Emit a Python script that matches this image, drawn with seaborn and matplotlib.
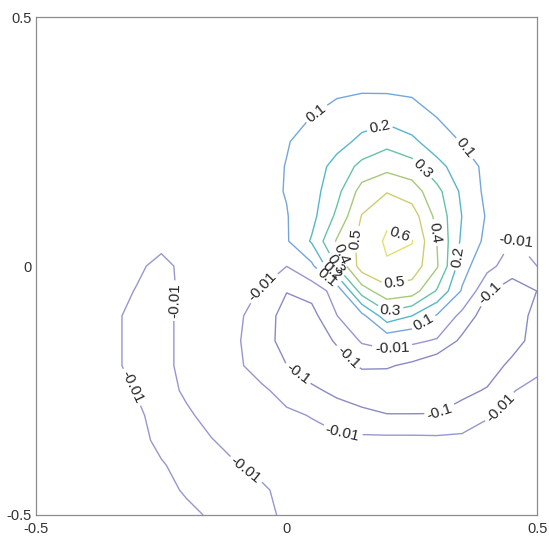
import numpy as np
import matplotlib
matplotlib.use("Agg")
import matplotlib.pyplot as plt
import seaborn as sns

# grid of the field (rows from y=0.5 down to y=-0.5)
x_grid = np.linspace(-0.5, 0.5, 21)
y_grid = np.linspace(0.5, -0.5, 21)

z_y050 = [0.0, 0.0, 0.0, 0.0, 0.0, 0.0, 0.002, 0.004, 0.008, 0.012, 0.018, 0.024, 0.03, 0.035, 0.035, 0.032, 0.027, 0.021, 0.016, 0.012, 0.008]
z_y045 = [0.0, 0.0, 0.0, 0.0, 0.0, 0.001, 0.003, 0.006, 0.011, 0.017, 0.026, 0.035, 0.044, 0.05, 0.05, 0.046, 0.038, 0.03, 0.022, 0.016, 0.011]
z_y040 = [0.0, 0.0, 0.0, 0.0, 0.001, 0.002, 0.004, 0.008, 0.015, 0.024, 0.036, 0.05, 0.062, 0.07, 0.07, 0.065, 0.054, 0.042, 0.03, 0.021, 0.014]
z_y035 = [0.0, 0.0, 0.0, 0.001, 0.002, 0.003, 0.006, 0.01, 0.019, 0.032, 0.048, 0.067, 0.085, 0.096, 0.095, 0.087, 0.073, 0.056, 0.04, 0.028, 0.018]
z_y030 = [0.0, 0.0, 0.0, 0.001, 0.003, 0.005, 0.008, 0.013, 0.024, 0.042, 0.065, 0.101, 0.14, 0.165, 0.168, 0.145, 0.098, 0.07, 0.05, 0.035, 0.022]
z_y025 = [0.0, 0.0, 0.001, 0.002, 0.004, 0.006, 0.01, 0.018, 0.04, 0.065, 0.095, 0.13, 0.17, 0.22, 0.27, 0.22, 0.15, 0.095, 0.065, 0.04, 0.025]
z_y020 = [0.0, 0.0, 0.001, 0.002, 0.004, 0.007, 0.012, 0.025, 0.045, 0.07, 0.103, 0.155, 0.23, 0.33, 0.37, 0.34, 0.23, 0.15, 0.075, 0.045, 0.03]
z_y015 = [0.0, 0.0, 0.0, 0.001, 0.003, 0.006, 0.011, 0.024, 0.045, 0.07, 0.105, 0.16, 0.27, 0.44, 0.495, 0.45, 0.33, 0.18, 0.075, 0.045, 0.03]
z_y010 = [0.0, 0.0, 0.0, 0.0, 0.001, 0.003, 0.008, 0.02, 0.04, 0.065, 0.095, 0.17, 0.32, 0.505, 0.58, 0.55, 0.37, 0.198, 0.09, 0.03, 0.02]
z_y005 = [-0.002, -0.002, -0.002, -0.002, -0.003, -0.007, 0.004, 0.014, 0.03, 0.055, 0.09, 0.21, 0.41, 0.53, 0.615, 0.605, 0.398, 0.18, 0.075, -0.012, 0.0]
z_y000 = [-0.004, -0.004, -0.004, -0.004, -0.008, -0.013, -0.007, -0.004, -0.003, -0.003, -0.009, 0.08, 0.305, 0.55, 0.59, 0.56, 0.41, 0.14, 0.02, -0.06, -0.0095]
z_m005 = [-0.004, -0.004, -0.005, -0.006, -0.0105, -0.014, -0.007, -0.005, -0.005, -0.011, -0.095, -0.07, 0.03, 0.35, 0.47, 0.45, 0.29, 0.09, -0.09, -0.14, -0.099]
z_m010 = [-0.004, -0.005, -0.006, -0.007, -0.014, -0.014, -0.006, -0.005, -0.006, -0.02, -0.16, -0.13, -0.012, 0.07, 0.26, 0.2, 0.09, -0.04, -0.15, -0.16, -0.065]
z_m015 = [-0.004, -0.005, -0.006, -0.007, -0.014, -0.014, -0.006, -0.005, -0.008, -0.02, -0.17, -0.15, -0.09, 0.0, 0.03, 0.01, -0.02, -0.12, -0.17, -0.15, -0.05]
z_m020 = [-0.004, -0.005, -0.006, -0.007, -0.014, -0.014, -0.006, -0.005, -0.006, -0.02, -0.098, -0.17, -0.14, -0.09, -0.09, -0.12, -0.17, -0.18, -0.16, -0.07, -0.015]
z_m025 = [-0.003, -0.004, -0.005, -0.006, -0.0105, -0.015, -0.008, -0.005, -0.004, -0.006, -0.018, -0.075, -0.13, -0.16, -0.17, -0.17, -0.16, -0.13, -0.09, -0.011, -0.004]
z_m030 = [-0.003, -0.003, -0.004, -0.005, -0.008, -0.014, -0.012, -0.006, -0.005, -0.005, -0.006, -0.011, -0.03, -0.07, -0.095, -0.095, -0.095, -0.05, -0.012, -0.004, -0.003]
z_m035 = [-0.002, -0.003, -0.003, -0.004, -0.006, -0.013, -0.015, -0.0105, -0.006, -0.005, -0.004, -0.003, 0.0, 0.008, 0.012, 0.012, 0.01, 0.005, 0.0, -0.002, -0.002]
z_m040 = [-0.002, -0.002, -0.003, -0.003, -0.004, -0.009, -0.014, -0.014, -0.0105, -0.006, -0.004, -0.002, 0.0, 0.003, 0.004, 0.003, 0.002, 0.0, -0.001, -0.001, -0.001]
z_m045 = [-0.002, -0.002, -0.003, -0.003, -0.004, -0.006, -0.0115, -0.015, -0.015, -0.012, -0.006, -0.003, -0.002, -0.001, 0.0, 0.0, 0.0, 0.0, 0.0, 0.0, 0.0]
z_m050 = [-0.002, -0.002, -0.003, -0.003, -0.004, -0.005, -0.007, -0.0115, -0.015, -0.013, -0.008, -0.004, -0.003, -0.002, -0.001, 0.0, 0.0, 0.0, 0.0, 0.0, 0.0]

contour_levels = [-0.1, -0.01, 0.1, 0.2, 0.3, 0.4, 0.5, 0.6]
tick_vals = [-0.5, 0, 0.5]
tick_labels = ["-0.5", "0", "0.5"]

# styling (faded parula look)
line_colors = ["#8a8ac4", "#9696d2", "#74a6dc", "#56b6cc", "#66c2a6", "#a6c97a", "#cfcd72", "#e4e070"]

# where the inline labels sit
label_spots = {
    -0.1: [(0.023, -0.215), (0.116, -0.189), (0.405, -0.054), (0.306, -0.293)],
    -0.01: [(-0.052, -0.038), (0.211, -0.169), (0.458, 0.052), (0.112, -0.329),
            (0.425, -0.283), (-0.241, -0.068), (-0.308, -0.243), (-0.082, -0.41)],
    0.1: [(0.062, 0.303), (0.36, 0.24), (0.274, -0.114), (0.075, -0.03)],
    0.2: [(0.187, 0.277), (0.34, 0.018), (0.09, -0.012)],
    0.3: [(0.274, 0.199), (0.207, -0.092), (0.103, 0.005)],
    0.4: [(0.3, 0.068), (0.118, 0.028)],
    0.5: [(0.148, 0.052), (0.215, -0.034)],
    0.6: [(0.227, 0.066)],
}

z_rows = [z_y050, z_y045, z_y040, z_y035, z_y030, z_y025, z_y020, z_y015, z_y010, z_y005,
          z_y000, z_m005, z_m010, z_m015, z_m020, z_m025, z_m030, z_m035, z_m040, z_m045, z_m050]
Z = np.array(z_rows)[::-1]
X, Y = np.meshgrid(x_grid, y_grid[::-1])

sns.set_theme(style="white")
plt.rcParams["font.family"] = ["Liberation Sans", "DejaVu Sans"]
plt.rcParams["axes.unicode_minus"] = False

fig = plt.figure(figsize=(5.49, 5.37), dpi=100)
ax = fig.add_axes([0.0656, 0.041, 0.913, 0.927])

for lev, col in zip(contour_levels, line_colors):
    cs = ax.contour(X, Y, Z, levels=[lev], colors=[col], linewidths=1.0,
                    linestyles="solid")
    ax.clabel(cs, fmt="%g", fontsize=11, colors="#262626", inline=True,
              inline_spacing=3, manual=label_spots[lev])

ax.set_xlim(-0.5, 0.5)
ax.set_ylim(-0.5, 0.5)
ax.set_xticks(tick_vals)
ax.set_xticklabels(tick_labels)
ax.set_yticks(tick_vals)
ax.set_yticklabels(tick_labels)
ax.tick_params(direction="in", length=4, width=0.8, color="#555555",
               labelsize=10.5, labelcolor="#333333", top=False, right=False)
ax.tick_params(axis="x", pad=5)
ax.tick_params(axis="y", pad=3)
for sp in ax.spines.values():
    sp.set_color("#8c8c8c")
    sp.set_linewidth(0.9)

fig.savefig("out.png", dpi=100)
